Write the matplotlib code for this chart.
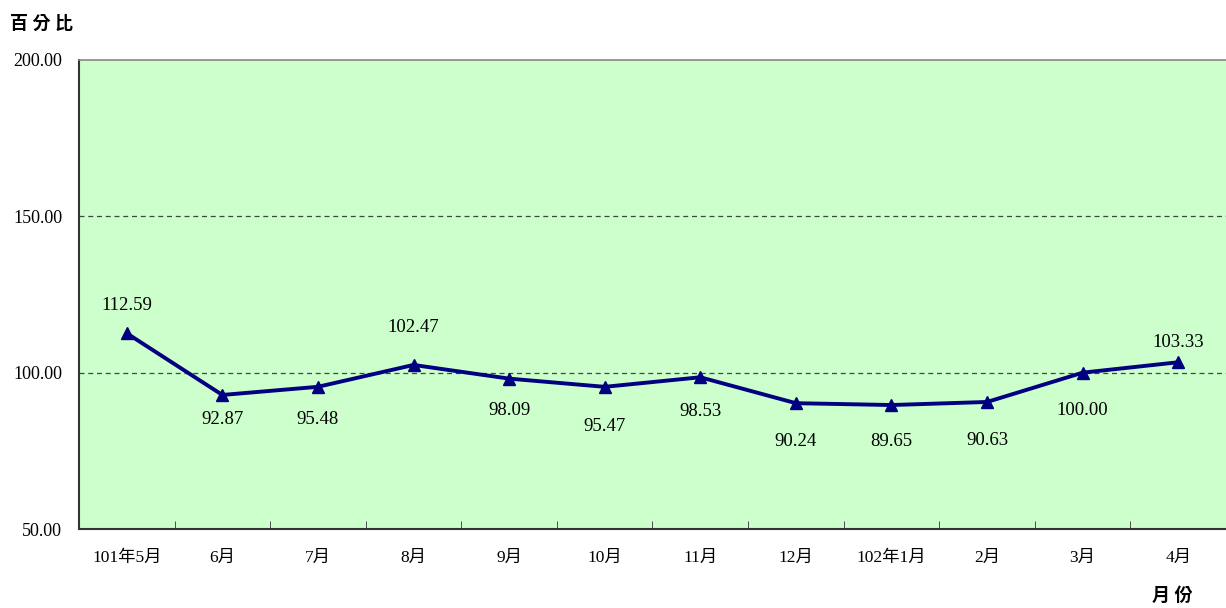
import matplotlib
matplotlib.use("Agg")
from matplotlib import pyplot as plt

months = ["101年5月", "6月", "7月", "8月", "9月", "10月", "11月", "12月",
          "102年1月", "2月", "3月", "4月"]
values = [112.59, 92.87, 95.48, 102.47, 98.09, 95.47, 98.53, 90.24,
          89.65, 90.63, 100.00, 103.33]
yticks = [50, 100, 150, 200]

# label placement (pixels, label centre relative to the marker; + is up)
label_dy = [28, -25, -33, 37, -32, -40, -34, -38, -36, -39, -38, 20]

fams = ["Liberation Serif", "Noto Sans CJK TC"]
plt.rcParams["font.family"] = fams

fig = plt.figure(figsize=(12.26, 6.08), dpi=100)
ax = fig.add_axes([79 / 1226, 79 / 608, 1147 / 1226, 469 / 608])
ax.set_facecolor("#ccffcc")

x = list(range(len(values)))
ax.plot(x, values, color="#000080", lw=2.8, marker="^", ms=9, zorder=3)

for i, v in enumerate(values):
    ax.annotate("%.2f" % v, (i, v), xytext=(0, label_dy[i] * 0.72),
                textcoords="offset points", ha="center", va="center",
                fontsize=13.5)

ax.set_xlim(-0.5, len(values) - 0.5)
ax.set_ylim(50, 200)
ax.set_yticks(yticks)
ax.set_yticklabels(["%.2f" % t for t in yticks], fontsize=13)
ax.tick_params(axis="y", length=0, pad=12)

ax.set_xticks(x)
ax.set_xticklabels(months, fontsize=12.5)
ax.tick_params(axis="x", which="major", length=0, pad=15)
ax.set_xticks([i + 0.5 for i in x[:-1]], minor=True)
ax.tick_params(axis="x", which="minor", direction="in", length=6, color="#333333")

for yv in [100, 150]:
    ax.axhline(yv, color="#444444", lw=0.9, ls=(0, (4, 3)), zorder=1)

ax.spines["left"].set_color("#333333")
ax.spines["left"].set_linewidth(1.5)
ax.spines["bottom"].set_color("#333333")
ax.spines["bottom"].set_linewidth(1.5)
ax.spines["top"].set_color("#888888")
ax.spines["top"].set_linewidth(1.2)
ax.spines["right"].set_visible(False)

fig.text(10 / 1226, 1 - 24 / 608, "百 分 比", fontsize=13, va="center", ha="left",
         fontweight="bold")
fig.text(1193 / 1226, 1 - 596 / 608, "月 份", fontsize=13, va="center", ha="right",
         fontweight="bold")

fig.savefig("out.png", dpi=100)
